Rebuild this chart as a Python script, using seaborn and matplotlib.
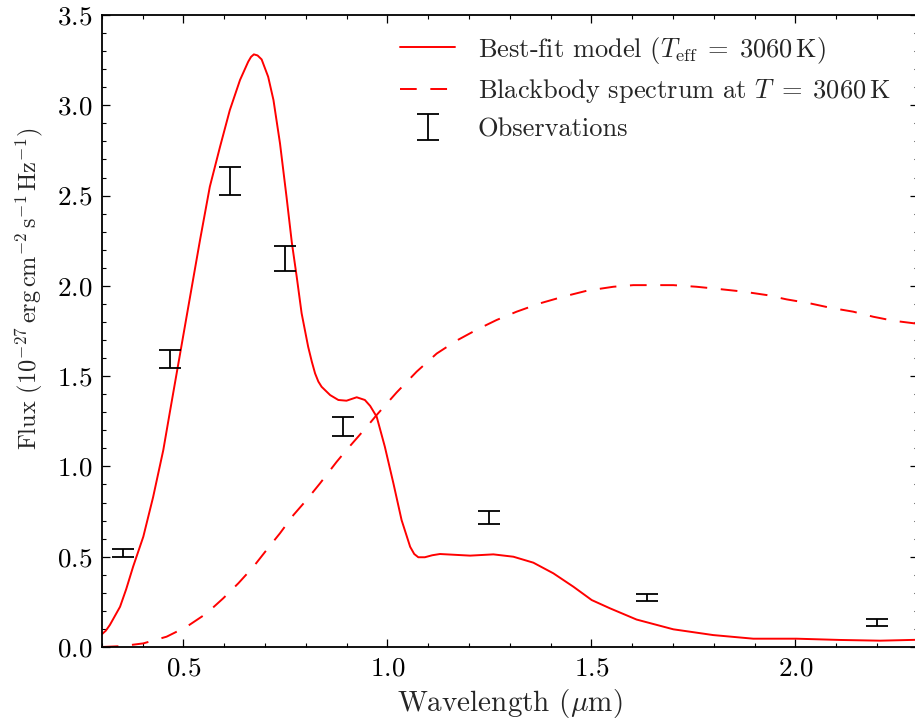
import matplotlib
matplotlib.use("Agg")
import matplotlib.pyplot as plt
import seaborn as sns
import pandas as pd
from matplotlib.ticker import MultipleLocator

# Best-fit atmosphere model (wavelength in micron, flux in 1e-27 erg/cm2/s/Hz)
model_wave = [0.300, 0.310, 0.320, 0.345, 0.360, 0.377, 0.402, 0.426, 0.451,
              0.467, 0.488, 0.508, 0.541, 0.565, 0.590, 0.614, 0.639, 0.659,
              0.666, 0.673, 0.682, 0.692, 0.708, 0.721, 0.737, 0.753, 0.766,
              0.778, 0.790, 0.806, 0.815, 0.823, 0.831, 0.839, 0.860, 0.880,
              0.900, 0.925, 0.945, 0.958, 0.974, 0.994, 1.015, 1.035, 1.056,
              1.066, 1.076, 1.092, 1.110, 1.129, 1.203, 1.260, 1.309, 1.358,
              1.407, 1.456, 1.501, 1.546, 1.611, 1.701, 1.799, 1.897, 2.003,
              2.110, 2.208, 2.300]
model_flux = [0.070, 0.090, 0.122, 0.223, 0.320, 0.445, 0.611, 0.830, 1.091,
              1.300, 1.571, 1.829, 2.254, 2.549, 2.770, 2.973, 3.140, 3.241,
              3.268, 3.282, 3.276, 3.254, 3.158, 3.029, 2.789, 2.493, 2.240,
              2.050, 1.848, 1.663, 1.580, 1.515, 1.470, 1.441, 1.395, 1.368,
              1.364, 1.383, 1.368, 1.335, 1.275, 1.109, 0.906, 0.703, 0.555,
              0.515, 0.497, 0.497, 0.508, 0.515, 0.506, 0.513, 0.500, 0.467,
              0.408, 0.334, 0.260, 0.214, 0.152, 0.098, 0.066, 0.046, 0.046,
              0.039, 0.035, 0.040]

# Blackbody curve at the same temperature
bb_wave = [0.300, 0.350, 0.402, 0.459, 0.508, 0.557, 0.598, 0.635, 0.672,
           0.704, 0.737, 0.770, 0.802, 0.835, 0.876, 0.900, 0.950, 0.974,
           1.023, 1.072, 1.121, 1.170, 1.219, 1.268, 1.317, 1.374, 1.431,
           1.489, 1.554, 1.603, 1.644, 1.701, 1.758, 1.815, 1.873, 1.930,
           1.979, 2.036, 2.085, 2.142, 2.191, 2.240, 2.300]
bb_flux = [0.000, 0.005, 0.020, 0.057, 0.112, 0.186, 0.270, 0.353, 0.445,
           0.537, 0.630, 0.731, 0.814, 0.906, 1.026, 1.091, 1.220, 1.285,
           1.410, 1.525, 1.625, 1.697, 1.757, 1.811, 1.857, 1.903, 1.940,
           1.973, 1.995, 2.004, 2.004, 2.004, 1.995, 1.982, 1.968, 1.949,
           1.925, 1.903, 1.879, 1.857, 1.829, 1.807, 1.790]

# Photometric observations
obs_wave = [0.353, 0.467, 0.614, 0.749, 0.891, 1.250, 1.636, 2.200]
obs_flux = [0.520, 1.595, 2.579, 2.153, 1.222, 0.718, 0.275, 0.137]
obs_err = [0.024, 0.048, 0.078, 0.069, 0.052, 0.037, 0.018, 0.020]

FS = 19

sns.set_theme(style="ticks")
plt.rcParams.update({
    "font.family": "serif",
    "font.serif": ["cmr10"],
    "mathtext.fontset": "cm",
    "axes.formatter.use_mathtext": True,
    "font.size": FS,
    "axes.linewidth": 1.3,
    "axes.edgecolor": "black",
    "xtick.color": "black",
    "ytick.color": "black",
})

fig = plt.figure(figsize=(9.15, 7.28), dpi=100)
ax = fig.add_axes([101.7 / 915, 81 / 728, 816 / 915, 632 / 728])

model_df = pd.DataFrame({"wave": model_wave, "flux": model_flux})
bb_df = pd.DataFrame({"wave": bb_wave, "flux": bb_flux})

sns.lineplot(data=model_df, x="wave", y="flux", ax=ax, color="#ff0000",
             linewidth=1.4, sort=False,
             label=r"Best-fit model ($T_{\rm eff}\;=\;3060\,\mathrm{K}$)")
sns.lineplot(data=bb_df, x="wave", y="flux", ax=ax, color="#ff0000",
             linewidth=1.4, sort=False, linestyle=(0, (8.6, 7.0)),
             label=r"Blackbody spectrum at $T\;=\;3060\,\mathrm{K}$")
ax.errorbar(obs_wave, obs_flux, yerr=obs_err, fmt="none", ecolor="black",
            elinewidth=1.3, capsize=8, capthick=1.3, label="Observations")

ax.set_xlim(0.3, 2.3)
ax.set_ylim(0.0, 3.5)
ax.xaxis.set_major_locator(MultipleLocator(0.5))
ax.xaxis.set_minor_locator(MultipleLocator(0.1))
ax.yaxis.set_major_locator(MultipleLocator(0.5))
ax.yaxis.set_minor_locator(MultipleLocator(0.1))
ax.tick_params(which="both", direction="in", top=True, right=True,
               bottom=True, left=True)
ax.tick_params(which="major", length=6, width=0.9, pad=7, labelsize=19.5)
ax.tick_params(which="minor", length=3, width=0.8)

ax.set_xlabel(r"Wavelength ($\mu$m)", fontsize=21)
ax.xaxis.set_label_coords(0.5, -0.064)
ax.set_ylabel(r"Flux ($10^{-27}\,\mathrm{erg\,cm^{-2}\,s^{-1}\,Hz^{-1}}$)",
              fontsize=17.5)
ax.yaxis.set_label_coords(-0.0695, 0.566)

ax.legend(loc="upper left", bbox_to_anchor=(0.3656, 0.969), frameon=False,
          fontsize=FS, handlelength=2.1, handletextpad=0.85,
          labelspacing=0.45, borderaxespad=0, borderpad=0)

fig.savefig("out.png", dpi=100)
